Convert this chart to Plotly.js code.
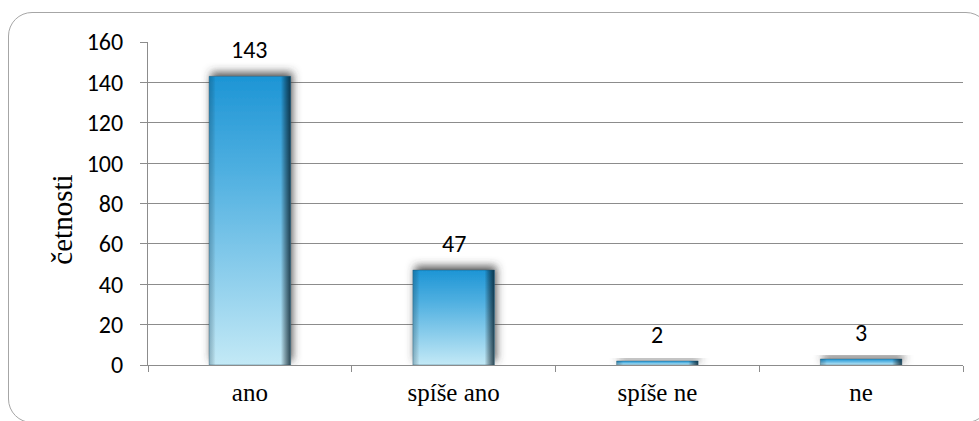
<!DOCTYPE html>
<html>
<head>
<meta charset="utf-8">
<script src="https://cdn.plot.ly/plotly-3.0.1.min.js"></script>
<style>
  html, body { margin: 0; padding: 0; background: #ffffff; }
  #wrap { position: relative; width: 979px; height: 421px; overflow: hidden; }
  #frame {
    position: absolute; left: 8px; top: 12px; width: 982px; height: 411px;
    border: 1.3px solid #a6a6a6; border-radius: 24px; box-sizing: border-box;
    pointer-events: none;
  }
  #chart { position: absolute; left: 0; top: 0; width: 979px; height: 421px; }
</style>
</head>
<body>
<div id="wrap">
  <div id="frame"></div>
  <div id="chart"></div>
</div>
<script>
// Answer categories and their counts
const categories = ['ano', 'spíše ano', 'spíše ne', 'ne'];
const counts = [143, 47, 2, 3];
const yTicks = [0, 20, 40, 60, 80, 100, 120, 140, 160];
const yTitle = 'četnosti';

const SANS = 'Carlito, Calibri, Lato, sans-serif';
const SERIF = 'Liberation Serif, Times New Roman, serif';

const trace = {
  type: 'bar',
  x: categories,
  y: counts,
  width: 0.4,
  marker: { color: '#3aa6dc', line: { width: 0 } },
  hoverinfo: 'skip'
};

// Value labels sit above each bar
const labels = categories.map((c, i) => ({
  x: c, y: counts[i], xref: 'x', yref: 'y',
  text: String(counts[i]), showarrow: false,
  yanchor: 'bottom', yshift: 10,
  font: { family: SANS, size: 24, color: '#000' }
}));

// Vertical axis caption, placed a little below the middle of the plot
labels.push({
  x: -0.1055, y: 0.45, xref: 'paper', yref: 'paper',
  xanchor: 'center', yanchor: 'middle',
  text: yTitle, textangle: -90, showarrow: false,
  font: { family: SERIF, size: 29, color: '#000' }
});

const layout = {
  width: 979, height: 421,
  margin: { l: 148, r: 16, t: 42, b: 56 },
  paper_bgcolor: 'rgba(0,0,0,0)',
  plot_bgcolor: 'rgba(0,0,0,0)',
  showlegend: false,
  xaxis: {
    type: 'category',
    showline: true, linecolor: '#8c8c8c', linewidth: 1,
    ticks: 'outside', tickson: 'boundaries', ticklen: 6, tickcolor: '#8c8c8c',
    showgrid: false,
    tickfont: { family: SERIF, size: 25, color: '#000' },
    ticklabelstandoff: 5
  },
  yaxis: {
    range: [0, 160],
    tickvals: yTicks,
    showline: true, linecolor: '#8c8c8c', linewidth: 1,
    ticks: 'outside', ticklen: 7, tickcolor: '#8c8c8c',
    showgrid: true, gridcolor: '#8c8c8c', gridwidth: 1,
    zeroline: false,
    tickfont: { family: SANS, size: 24, color: '#000' },
    ticklabelstandoff: 12
  },
  annotations: labels
};

// Give the bars a vertical blue gradient, bevelled edges and a soft shadow
function styleBars(gd) {
  const svg = gd.querySelector('svg.main-svg');
  if (!svg || svg.querySelector('#barGrad')) return;
  const ns = 'http://www.w3.org/2000/svg';
  let defs = svg.querySelector('defs');
  if (!defs) { defs = document.createElementNS(ns, 'defs'); svg.prepend(defs); }
  defs.insertAdjacentHTML('beforeend', `
    <linearGradient id="barGrad" x1="0" y1="0" x2="0" y2="1">
      <stop offset="0" stop-color="#1d95d5"/>
      <stop offset="0.35" stop-color="#52b1e1"/>
      <stop offset="1" stop-color="#c3e9f6"/>
    </linearGradient>
    <linearGradient id="sideGrad" x1="0" y1="0" x2="1" y2="0">
      <stop offset="0" stop-color="#0b3a52" stop-opacity="0.3"/>
      <stop offset="0.08" stop-color="#000" stop-opacity="0"/>
      <stop offset="0.88" stop-color="#000" stop-opacity="0"/>
      <stop offset="1" stop-color="#06202e" stop-opacity="0.8"/>
    </linearGradient>
    <filter id="barShadow" x="-30%" y="-60%" width="160%" height="220%">
      <feDropShadow dx="2" dy="-4" stdDeviation="4.5" flood-color="#3a3a3a" flood-opacity="0.85"/>
    </filter>`);
  gd.querySelectorAll('.barlayer .point path').forEach(p => {
    p.style.fill = 'url(#barGrad)';
    p.style.fillOpacity = 1;
    p.setAttribute('filter', 'url(#barShadow)');
    const side = p.cloneNode(false);
    side.removeAttribute('filter');
    side.style.fill = 'url(#sideGrad)';
    side.style.stroke = 'rgba(40,80,100,0.5)';
    side.style.strokeWidth = '0.8px';
    p.parentNode.appendChild(side);
  });
}

Plotly.newPlot('chart', [trace], layout, { displayModeBar: false, staticPlot: true })
  .then(gd => styleBars(gd));
</script>
</body>
</html>
